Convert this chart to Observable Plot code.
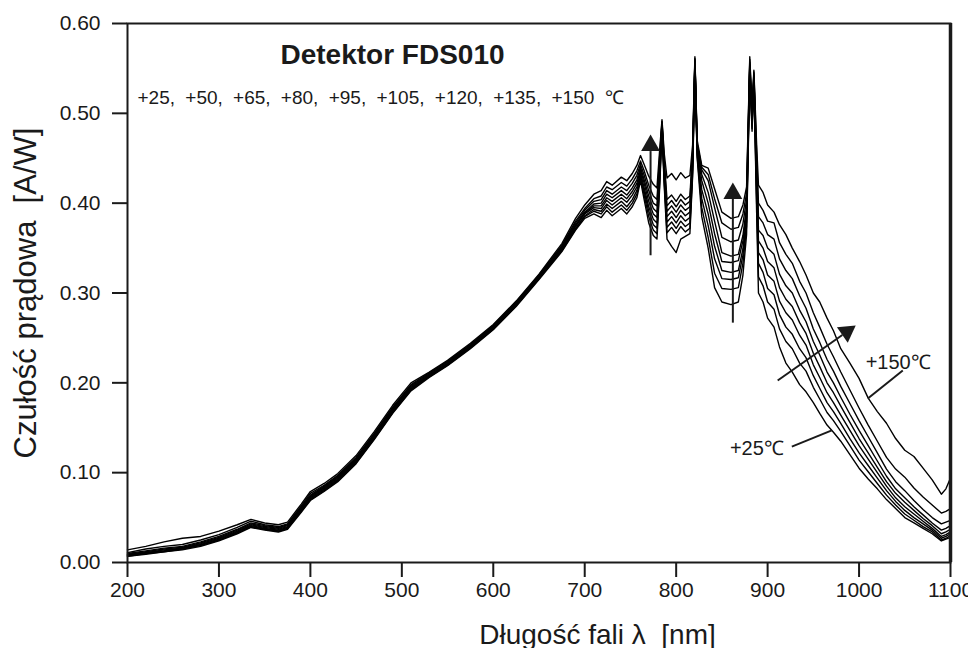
<!DOCTYPE html>
<html>
<head>
<meta charset="utf-8">
<script src="https://cdn.jsdelivr.net/npm/d3@7"></script>
<script src="https://cdn.jsdelivr.net/npm/@observablehq/plot@0.6"></script>
<style>
html, body { margin: 0; padding: 0; background: #fff; }
#chart svg { display: block; }
#chart svg text { white-space: pre; }
</style>
</head>
<body>
<div id="chart"></div>
<script>
// Wavelength grid [nm]
const wl = [200, 220, 240, 260, 280, 300, 320, 335, 350, 365,
  375, 390, 400, 415, 430, 450, 470, 490, 510, 530,
  550, 575, 600, 625, 650, 675, 690,
  700, 710, 718, 724, 730, 740, 746, 752, 757, 761,
  765, 770, 775, 779, 782, 784.5, 787, 790, 795, 800,
  805, 810, 815, 818, 820.5, 823, 828, 835, 842, 850,
  860, 868, 873, 877, 880.5, 883, 885, 888, 890, 895,
  900, 907, 913, 920, 927, 935, 942, 950, 957, 965,
  972, 980, 990, 1000, 1010, 1020, 1030, 1040, 1050, 1060,
  1070, 1080, 1090, 1095, 1100];

const temps = [25, 50, 65, 80, 95, 105, 120, 135, 150];

// Current responsivity [A/W] per temperature
const r25 = [.007,.009,.012,.014,.018,.024,.032,.039,.036,.034,
  .037,.056,.069,.079,.090,.110,.137,.166,.191,.206,
  .219,.238,.259,.285,.315,.346,.370,
  .383,.388,.384,.392,.386,.394,.388,.396,.406,.425,
  .404,.378,.364,.360,.418,.480,.418,.360,.352,.345,
  .360,.363,.366,.430,.550,.450,.385,.350,.306,.290,
  .287,.290,.320,.365,.545,.480,.535,.390,.300,.290,
  .272,.262,.240,.222,.212,.198,.190,.178,.166,.153,
  .145,.135,.120,.105,.093,.082,.070,.060,.050,.044,
  .038,.032,.024,.026,.028];
const r50 = [.007,.010,.012,.015,.019,.025,.033,.040,.037,.035,
  .038,.057,.070,.080,.091,.111,.138,.167,.192,.207,
  .220,.239,.260,.286,.316,.347,.371,
  .385,.391,.388,.396,.390,.398,.392,.400,.410,.428,
  .409,.385,.370,.366,.423,.482,.422,.367,.373,.366,
  .374,.368,.372,.434,.552,.452,.395,.362,.322,.305,
  .304,.306,.333,.374,.547,.483,.536,.400,.318,.308,
  .290,.282,.260,.246,.238,.222,.213,.195,.182,.167,
  .158,.146,.130,.114,.101,.088,.075,.064,.054,.047,
  .040,.034,.025,.027,.030];
const r65 = [.008,.010,.013,.015,.019,.025,.033,.040,.037,.035,
  .038,.058,.071,.081,.092,.112,.139,.168,.193,.207,
  .220,.239,.260,.286,.316,.348,.372,
  .386,.393,.391,.399,.394,.402,.396,.404,.414,.431,
  .413,.391,.376,.372,.428,.484,.426,.373,.379,.372,
  .380,.374,.378,.438,.554,.455,.405,.375,.338,.316,
  .315,.317,.342,.380,.549,.486,.538,.410,.333,.323,
  .305,.298,.276,.262,.254,.238,.228,.208,.194,.178,
  .168,.155,.138,.122,.108,.094,.080,.068,.058,.050,
  .043,.036,.027,.029,.032];
const r80 = [.008,.011,.013,.016,.020,.026,.034,.041,.038,.036,
  .039,.059,.072,.082,.093,.113,.140,.169,.194,.208,
  .221,.240,.261,.287,.317,.349,.374,
  .388,.395,.394,.403,.398,.406,.401,.409,.418,.434,
  .417,.396,.382,.378,.433,.486,.430,.379,.385,.378,
  .386,.380,.384,.442,.556,.457,.415,.388,.352,.325,
  .323,.325,.349,.385,.551,.489,.539,.420,.345,.337,
  .320,.313,.291,.278,.270,.253,.242,.220,.206,.189,
  .178,.164,.147,.130,.115,.100,.085,.072,.062,.054,
  .046,.038,.029,.031,.034];
const r95 = [.009,.011,.014,.016,.021,.027,.035,.042,.039,.037,
  .040,.060,.073,.083,.094,.114,.141,.170,.195,.208,
  .221,.240,.261,.287,.317,.350,.375,
  .389,.397,.397,.406,.402,.410,.405,.413,.422,.437,
  .422,.402,.388,.384,.438,.488,.434,.385,.391,.384,
  .392,.386,.390,.446,.558,.460,.425,.400,.366,.335,
  .334,.336,.358,.391,.553,.492,.541,.430,.358,.350,
  .335,.328,.306,.293,.285,.267,.255,.233,.218,.200,
  .189,.174,.156,.138,.122,.106,.090,.077,.067,.058,
  .049,.041,.032,.034,.037];
const r105 = [.009,.012,.015,.017,.022,.028,.036,.043,.040,.038,
  .041,.061,.074,.084,.095,.115,.142,.171,.196,.209,
  .222,.241,.262,.288,.318,.351,.376,
  .390,.399,.400,.410,.406,.414,.409,.417,.426,.440,
  .426,.408,.394,.390,.443,.489,.438,.391,.397,.390,
  .398,.392,.396,.450,.559,.462,.432,.412,.380,.345,
  .341,.343,.364,.396,.555,.495,.542,.438,.370,.364,
  .350,.343,.321,.308,.300,.281,.268,.246,.231,.212,
  .200,.184,.165,.147,.130,.113,.096,.082,.072,.062,
  .053,.044,.036,.038,.041];
const r120 = [.010,.013,.016,.018,.023,.029,.037,.044,.041,.039,
  .042,.062,.075,.085,.096,.116,.143,.172,.197,.210,
  .223,.242,.263,.289,.319,.352,.378,
  .392,.402,.404,.414,.410,.418,.414,.422,.431,.443,
  .431,.414,.400,.397,.448,.490,.443,.397,.403,.396,
  .404,.398,.402,.454,.560,.464,.437,.425,.395,.362,
  .357,.359,.377,.404,.557,.498,.544,.446,.385,.378,
  .365,.360,.338,.325,.316,.297,.283,.260,.245,.226,
  .213,.196,.177,.158,.140,.122,.104,.090,.080,.069,
  .059,.050,.043,.045,.047];
const r135 = [.011,.015,.018,.020,.025,.031,.039,.046,.042,.040,
  .043,.063,.077,.086,.097,.117,.144,.173,.198,.211,
  .224,.243,.264,.290,.320,.353,.380,
  .394,.405,.408,.418,.415,.423,.419,.427,.436,.447,
  .436,.420,.408,.404,.453,.491,.448,.404,.409,.402,
  .410,.404,.408,.458,.561,.466,.440,.432,.405,.378,
  .371,.373,.388,.411,.560,.501,.546,.455,.400,.392,
  .380,.378,.356,.343,.333,.313,.300,.278,.262,.243,
  .229,.212,.192,.172,.153,.135,.117,.104,.095,.083,
  .073,.064,.055,.057,.060];
const r150 = [.014,.018,.023,.027,.029,.035,.042,.048,.044,.042,
  .045,.065,.079,.088,.099,.119,.146,.175,.200,.212,
  .225,.244,.265,.291,.321,.355,.383,
  .398,.410,.414,.424,.420,.429,.425,.433,.442,.453,
  .443,.430,.421,.417,.460,.493,.455,.428,.433,.426,
  .434,.428,.431,.465,.563,.470,.442,.439,.416,.390,
  .383,.385,.398,.418,.563,.505,.548,.465,.420,.412,
  .398,.390,.376,.365,.350,.335,.320,.300,.290,.272,
  .258,.238,.222,.205,.183,.168,.155,.138,.125,.118,
  .105,.092,.076,.082,.094];

const series = [r25, r50, r65, r80, r95, r105, r120, r135, r150];

// Axis ticks
const xTicks = [200, 300, 400, 500, 600, 700, 800, 900, 1000, 1100];
const yTicks = [0, 0.1, 0.2, 0.3, 0.4, 0.5, 0.6];

// Texts
const titleText = "Detektor FDS010";
const subtitleText = "+25, +50, +65, +80, +95, +105, +120, +135, +150 \u2103";
const xTitle = "Długość fali λ  [nm]";
const yTitle = "Czułość prądowa  [A/W]";

// Annotations (data units)
const arrowShafts = [
  {x1: 772, y1: 0.342, x2: 772, y2: 0.458},
  {x1: 862, y1: 0.267, x2: 862, y2: 0.405},
  {x1: 911, y1: 0.2026, x2: 981.7, y2: 0.2533}
];
const arrowHeads = [
  {x: 772, y: 0.4642, a: 0},
  {x: 862, y: 0.4108, a: 0},
  {x: 986.6, y: 0.2568, a: 55}
];
const leaderLines = [
  {x1: 926.5, y1: 0.129, x2: 970.2, y2: 0.147},
  {x1: 1047.8, y1: 0.2137, x2: 1009.6, y2: 0.1826}
];
const curveLabels = [
  {x: 888.3, y: 0.127, t: "+25\u2103"},
  {x: 1042.8, y: 0.222, t: "+150\u2103"}
];

const bad = series.findIndex(s => s.length !== wl.length);
const data = [];
series.forEach((s, i) => s.forEach((v, j) => data.push({wl: wl[j], r: v, t: temps[i]})));

const ink = "#1a1a1a";
const chart = Plot.plot({
  width: 968,
  height: 648,
  marginLeft: 127,
  marginRight: 18,
  marginTop: 23,
  marginBottom: 86,
  style: {fontFamily: "'Liberation Sans', Arial, Helvetica, sans-serif", fontSize: "21px", background: "#fff", color: ink},
  x: {domain: [200, 1100]},
  y: {domain: [0, 0.6]},
  marks: [
    Plot.line(data, {x: "wl", y: "r", z: "t", stroke: "#000", strokeWidth: 1.4, strokeLinejoin: "round"}),
    Plot.frame({stroke: ink, strokeWidth: 2}),
    Plot.ruleX([1100], {stroke: ink, strokeWidth: 3.5}),
    Plot.axisX({ticks: xTicks, tickSize: 15, tickPadding: 5, fontSize: 21, strokeWidth: 2, label: null, tickFormat: d => String(d)}),
    Plot.axisY({ticks: yTicks, tickSize: 15, tickPadding: 12, fontSize: 21, strokeWidth: 2, label: null, tickFormat: d3.format(".2f")}),
    Plot.link(arrowShafts, {x1: "x1", y1: "y1", x2: "x2", y2: "y2", stroke: ink, strokeWidth: 2}),
    Plot.dot(arrowHeads, {x: "x", y: "y", symbol: "triangle", r: 7, fill: ink, stroke: "none", rotate: "a"}),
    Plot.link(leaderLines, {x1: "x1", y1: "y1", x2: "x2", y2: "y2", stroke: ink, strokeWidth: 2}),
    Plot.text(curveLabels, {x: "x", y: "y", text: "t", fontSize: 20, fill: ink, lineAnchor: "middle"}),
    Plot.text([titleText], {text: d => d, frameAnchor: "top-left", dx: 153, dy: 40, lineAnchor: "bottom", textAnchor: "start", fontSize: 28, fontWeight: "bold", fill: ink}),
    Plot.text([subtitleText], {text: d => d, frameAnchor: "top-left", dx: 10, dy: 80, lineAnchor: "bottom", textAnchor: "start", fontSize: 19, fill: ink}),
    Plot.text([xTitle], {text: d => d, frameAnchor: "bottom", dx: 58.5, dy: 81, lineAnchor: "bottom", textAnchor: "middle", fontSize: 28, fill: ink}),
    Plot.text([yTitle], {text: d => d, frameAnchor: "left", dx: -92, rotate: -90, lineAnchor: "bottom", textAnchor: "middle", fontSize: 31, fill: ink})
  ]
});

d3.select(chart).selectAll("text")
  .filter(function() { return this.textContent === subtitleText; })
  .style("word-spacing", "5px");

document.getElementById("chart").appendChild(chart);
if (bad >= 0) {
  const p = document.createElement("p");
  p.textContent = "length mismatch in series " + bad + ": " + series[bad].length + " vs " + wl.length;
  document.body.appendChild(p);
}
</script>
</body>
</html>
